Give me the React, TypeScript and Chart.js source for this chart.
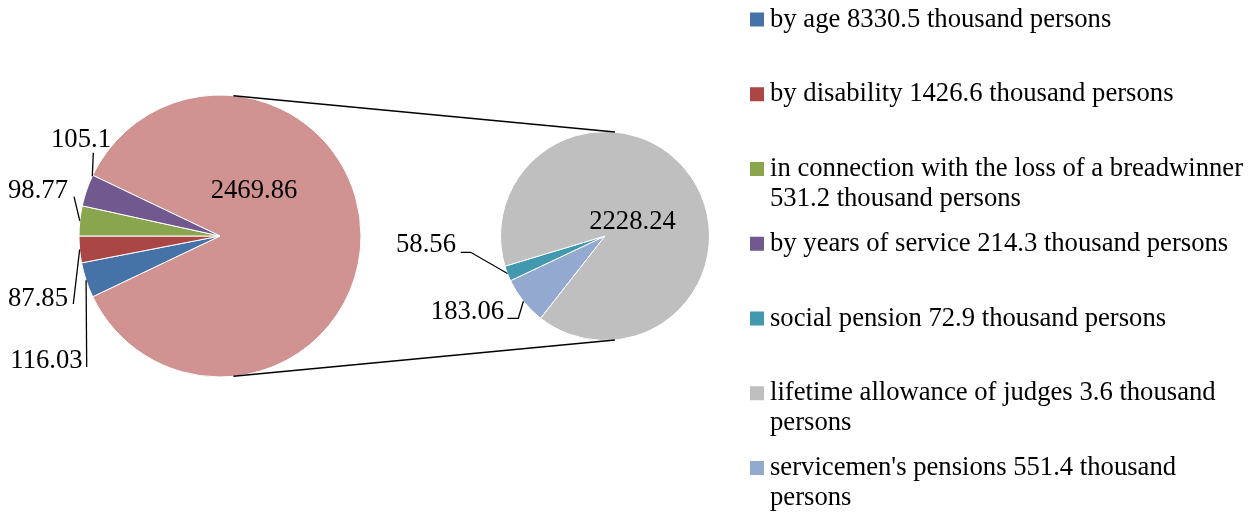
import React, { useEffect, useRef } from 'react';
import { Chart, registerables } from 'chart.js';

Chart.register(...registerables);

const W = 1256;
const H = 514;

// ---------- data ----------
const leftCategories = ['Other', 'by age', 'by disability', 'in connection with the loss of a breadwinner', 'by years of service'];
const leftValues = [2469.86, 116.03, 87.85, 98.77, 105.1];

const rightCategories = ["servicemen's pensions", 'social pension', 'lifetime allowance of judges'];
const rightValues = [183.06, 58.56, 2228.24];

const legendLabels: string[][] = [
  ['by age 8330.5 thousand persons'],
  ['by disability 1426.6 thousand persons'],
  ['in connection with the loss of a breadwinner', '531.2 thousand persons'],
  ['by years of service 214.3 thousand persons'],
  ['social pension 72.9 thousand persons'],
  ['lifetime allowance of judges 3.6 thousand', 'persons'],
  ["servicemen's pensions 551.4 thousand", 'persons'],
];

// ---------- styles ----------
const C_BLUE = '#4572A7';
const C_RED = '#AA4643';
const C_GREEN = '#89A54E';
const C_PURPLE = '#71588F';
const C_TEAL = '#4198AF';
const C_GRAY = '#BFBFBF';
const C_LIGHTBLUE = '#93A9CF';
const C_PINK = '#D19391';

const leftColors = [C_PINK, C_BLUE, C_RED, C_GREEN, C_PURPLE];
const rightColors = [C_LIGHTBLUE, C_TEAL, C_GRAY];
const legendColors = [C_BLUE, C_RED, C_GREEN, C_PURPLE, C_TEAL, C_GRAY, C_LIGHTBLUE];

const FONT = '26.67px "Liberation Serif", "Times New Roman", serif';

type LabelLayout = { dx: number; dy: number; leader?: number[][]; frac?: number };

// label annotation offsets relative to each pie's centre
const leftLabelLayout: LabelLayout[] = [
  { dx: 34, dy: -47 },
  { dx: -173.5, dy: 123, leader: [[-133.3, 131]], frac: 0.5 },
  { dx: -182, dy: 60.5, leader: [[-146.7, 68]], frac: 0.5 },
  { dx: -182, dy: -47.5, leader: [[-146, -39.3]], frac: 0.5 },
  { dx: -139, dy: -98, leader: [[-126.7, -83.3]], frac: 0.97 },
];
const rightLabelLayout: LabelLayout[] = [
  { dx: -137.5, dy: 73.7, leader: [[-97.7, 82.3], [-86.7, 82.3]], frac: 0.5 },
  { dx: -179, dy: 7.3, leader: [[-144.3, 16.3], [-134.3, 16.3]], frac: 0.5 },
  { dx: 27.5, dy: -16 },
];

function labelsPlugin(values: number[], layout: LabelLayout[]) {
  return {
    id: 'valueLabels',
    afterDatasetsDraw(chart: any) {
      const ctx = chart.ctx;
      const meta = chart.getDatasetMeta(0);
      ctx.save();
      ctx.font = FONT;
      ctx.fillStyle = '#000';
      ctx.strokeStyle = '#000';
      ctx.lineWidth = 1.3;
      ctx.textAlign = 'center';
      ctx.textBaseline = 'alphabetic';
      meta.data.forEach((arc: any, i: number) => {
        const L = layout[i];
        if (!L) return;
        const cx = arc.x;
        const cy = arc.y;
        if (L.leader) {
          const a = arc.startAngle + (L.frac ?? 0.5) * (arc.endAngle - arc.startAngle);
          ctx.beginPath();
          L.leader.forEach((p, k) => {
            if (k === 0) ctx.moveTo(cx + p[0], cy + p[1]);
            else ctx.lineTo(cx + p[0], cy + p[1]);
          });
          ctx.lineTo(cx + arc.outerRadius * Math.cos(a), cy + arc.outerRadius * Math.sin(a));
          ctx.stroke();
        }
        ctx.fillText(String(values[i]), cx + L.dx, cy + L.dy + 9);
      });
      ctx.restore();
    },
  };
}

function connectorPlugin(getLeft: () => any) {
  return {
    id: 'connectors',
    afterDatasetsDraw(chart: any) {
      const left = getLeft();
      if (!left) return;
      const a1 = left.getDatasetMeta(0).data[0];
      const a2 = chart.getDatasetMeta(0).data[0];
      if (!a1 || !a2) return;
      const x1 = a1.x, y1 = a1.y, r1 = a1.outerRadius;
      const x2 = a2.x, y2 = a2.y, r2 = a2.outerRadius;
      const d = Math.hypot(x2 - x1, y2 - y1);
      const phi = Math.atan2(y2 - y1, x2 - x1);
      const theta = Math.acos((r1 - r2) / d);
      const ctx = chart.ctx;
      ctx.save();
      ctx.strokeStyle = '#000';
      ctx.lineWidth = 1.5;
      [phi - theta, phi + theta].forEach((t) => {
        ctx.beginPath();
        ctx.moveTo(x1 + r1 * Math.cos(t), y1 + r1 * Math.sin(t));
        ctx.lineTo(x2 + r2 * Math.cos(t), y2 + r2 * Math.sin(t));
        ctx.stroke();
      });
      ctx.restore();
    },
  };
}

const legendPlugin = {
  id: 'sideLegend',
  afterDraw(chart: any) {
    const ctx = chart.ctx;
    ctx.save();
    ctx.font = FONT;
    ctx.textAlign = 'left';
    ctx.textBaseline = 'alphabetic';
    legendLabels.forEach((lines, i) => {
      const base = 26.5 + 74.75 * i;
      ctx.fillStyle = legendColors[i];
      ctx.fillRect(750, base - 14, 14, 14);
      ctx.fillStyle = '#000';
      lines.forEach((t, j) => ctx.fillText(t, 770, base + j * 30));
    });
    ctx.restore();
  },
};

export default function App() {
  const leftRef = useRef<HTMLCanvasElement>(null);
  const rightRef = useRef<HTMLCanvasElement>(null);

  useEffect(() => {
    const leftTotal = leftValues.reduce((s, v) => s + v, 0);
    const leftRotation = 90 - (leftValues[0] / leftTotal) * 180;

    const left = new Chart(leftRef.current as HTMLCanvasElement, {
      type: 'pie',
      data: {
        labels: leftCategories,
        datasets: [
          {
            data: leftValues,
            backgroundColor: leftColors,
            borderColor: '#ffffff',
            borderWidth: 1,
            radius: 141,
            rotation: leftRotation,
            clip: false,
          } as any,
        ],
      },
      options: {
        responsive: false,
        animation: false,
        events: [],
        layout: { padding: { left: 70, right: W - 370, top: 86, bottom: H - 386 } },
        plugins: { legend: { display: false }, tooltip: { enabled: false } },
      } as any,
      plugins: [labelsPlugin(leftValues, leftLabelLayout)],
    });

    const right = new Chart(rightRef.current as HTMLCanvasElement, {
      type: 'pie',
      data: {
        labels: rightCategories,
        datasets: [
          {
            data: rightValues,
            backgroundColor: rightColors,
            borderColor: '#ffffff',
            borderWidth: 1,
            radius: 104.5,
            rotation: 218,
            clip: false,
          } as any,
        ],
      },
      options: {
        responsive: false,
        animation: false,
        events: [],
        layout: { padding: { left: 495, right: W - 715, top: 126, bottom: H - 346 } },
        plugins: { legend: { display: false }, tooltip: { enabled: false } },
      } as any,
      plugins: [connectorPlugin(() => left), labelsPlugin(rightValues, rightLabelLayout), legendPlugin],
    });

    return () => {
      right.destroy();
      left.destroy();
    };
  }, []);

  return (
    <div style={{ position: 'absolute', left: 0, top: 0, width: W, height: H, background: '#ffffff' }}>
      <canvas ref={leftRef} width={W} height={H} style={{ position: 'absolute', left: 0, top: 0 }} />
      <canvas ref={rightRef} width={W} height={H} style={{ position: 'absolute', left: 0, top: 0 }} />
    </div>
  );
}
